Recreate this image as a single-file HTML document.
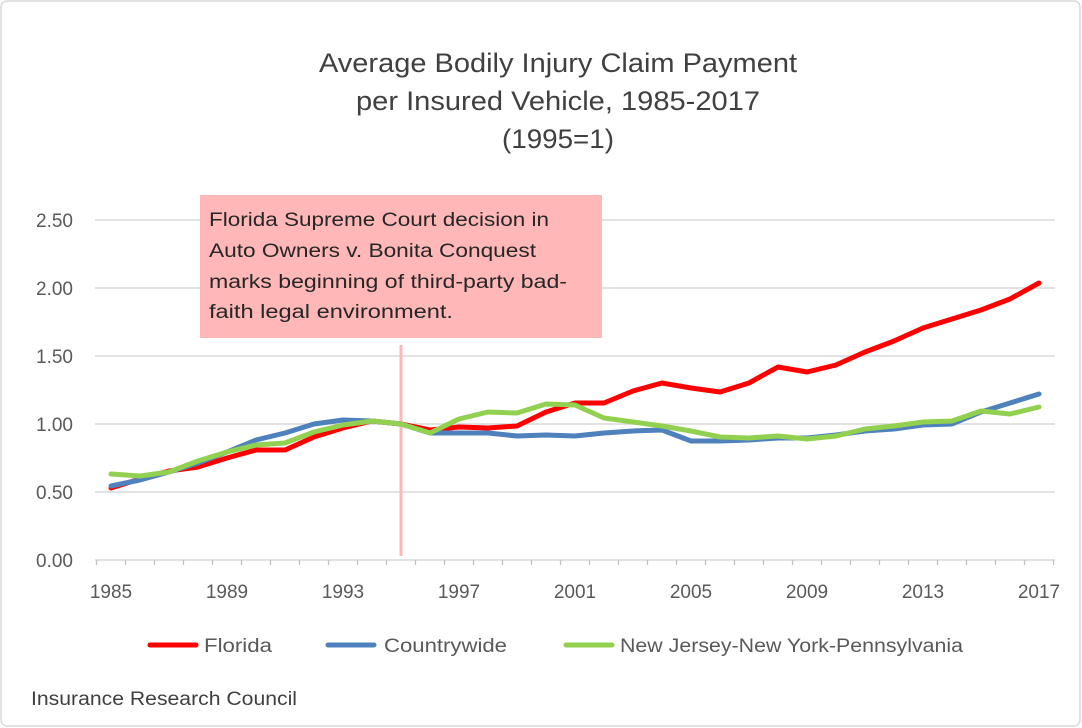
<!DOCTYPE html>
<html><head><style>
body{margin:0;background:#fff}
svg{display:block;font-family:"Liberation Sans",sans-serif}
</style></head><body>
<svg width="1082" height="728" viewBox="0 0 1082 728">
<rect x="1" y="1" width="1079" height="725" rx="6" fill="#fff" stroke="#d9d9d9" stroke-width="1.5"/>
<g font-size="27" fill="#404040" text-anchor="middle">
<text x="558" y="72" textLength="478" lengthAdjust="spacingAndGlyphs">Average Bodily Injury Claim Payment</text>
<text x="558" y="110" textLength="404" lengthAdjust="spacingAndGlyphs">per Insured Vehicle, 1985-2017</text>
<text x="558" y="148" textLength="112" lengthAdjust="spacingAndGlyphs">(1995=1)</text>
</g>
<g stroke="#d9d9d9" stroke-width="1.5">
<line x1="95" x2="1055" y1="220" y2="220"/><line x1="95" x2="1055" y1="288" y2="288"/>
<line x1="95" x2="1055" y1="356" y2="356"/><line x1="95" x2="1055" y1="424" y2="424"/>
<line x1="95" x2="1055" y1="492" y2="492"/><line x1="95" x2="1055" y1="560" y2="560"/>
</g>
<g stroke="#bfbfbf" stroke-width="1.2">
<path d="M96.5 560v5M125.5 560v5M154.5 560v5M183.5 560v5M212.5 560v5M241.5 560v5M270.5 560v5M299.5 560v5M328.5 560v5M357.5 560v5M386.5 560v5M415.5 560v5M444.5 560v5M473.5 560v5M502.5 560v5M531.5 560v5M560.5 560v5M589.5 560v5M618.5 560v5M647.5 560v5M676.5 560v5M705.5 560v5M734.5 560v5M763.5 560v5M792.5 560v5M821.5 560v5M850.5 560v5M879.5 560v5M908.5 560v5M937.5 560v5M966.5 560v5M995.5 560v5M1024.5 560v5M1053.5 560v5"/>
</g>
<g font-size="19" fill="#595959" text-anchor="end">
<text x="73" y="227">2.50</text><text x="73" y="295">2.00</text><text x="73" y="363">1.50</text>
<text x="73" y="431">1.00</text><text x="73" y="499">0.50</text><text x="73" y="567">0.00</text>
</g>
<g font-size="19" fill="#595959" text-anchor="middle">
<text x="111" y="598">1985</text><text x="227" y="598">1989</text><text x="343" y="598">1993</text>
<text x="459" y="598">1997</text><text x="575" y="598">2001</text><text x="691" y="598">2005</text>
<text x="807" y="598">2009</text><text x="923" y="598">2013</text><text x="1039" y="598">2017</text>
</g>
<rect x="200" y="195" width="402" height="143" fill="#ffb7b7"/>
<g font-size="19" fill="#262626">
<text x="209" y="226" textLength="340" lengthAdjust="spacingAndGlyphs">Florida Supreme Court decision in</text>
<text x="209" y="257" textLength="327" lengthAdjust="spacingAndGlyphs">Auto Owners v. Bonita Conquest</text>
<text x="209" y="288" textLength="358" lengthAdjust="spacingAndGlyphs">marks beginning of third-party bad-</text>
<text x="209" y="318" textLength="244" lengthAdjust="spacingAndGlyphs">faith legal environment.</text>
</g>
<line x1="401" x2="401" y1="345" y2="556" stroke="#ffb7b7" stroke-width="3"/>
<g fill="none" stroke-width="5" stroke-linejoin="round" stroke-linecap="round">
<polyline stroke="#ff0000" points="111,488 140,479 169,471 198,467 227,458 256,450 285,450 314,437 343,428 372,421 401,424 430,430 459,427 488,428 517,426 546,412 575,403 604,403 633,391 662,383 691,388 720,392 749,383 778,367 807,372 836,365 865,352 894,341 923,328 952,319 981,310 1010,299 1039,283"/>
<polyline stroke="#4f81bd" points="111,486 140,480 169,472 198,463 227,452 256,440 285,433 314,424 343,420 372,421 401,424 430,433 459,433 488,433 517,436 546,435 575,436 604,433 633,431 662,430 691,441 720,441 749,440 778,438 807,438 836,435 865,431 894,429 923,425 952,424 981,412 1010,403 1039,394"/>
<polyline stroke="#92d050" points="111,474 140,476 169,472 198,461 227,452 256,445 285,443 314,432 343,425 372,421 401,424 430,433 459,419 488,412 517,413 546,404 575,405 604,418 633,422 662,426 691,431 720,437 749,438 778,436 807,439 836,436 865,429 894,426 923,422 952,421 981,411 1010,414 1039,407"/>
</g>
<g stroke-width="5" stroke-linecap="round">
<line x1="150" x2="196" y1="645" y2="645" stroke="#ff0000"/>
<line x1="328" x2="374" y1="645" y2="645" stroke="#4f81bd"/>
<line x1="566" x2="612" y1="645" y2="645" stroke="#92d050"/>
</g>
<g font-size="19" fill="#595959">
<text x="204" y="652" textLength="68" lengthAdjust="spacingAndGlyphs">Florida</text>
<text x="384" y="652" textLength="123" lengthAdjust="spacingAndGlyphs">Countrywide</text>
<text x="620" y="652" textLength="343" lengthAdjust="spacingAndGlyphs">New Jersey-New York-Pennsylvania</text>
</g>
<text x="31" y="705" font-size="19" fill="#404040" textLength="266" lengthAdjust="spacingAndGlyphs">Insurance Research Council</text>
</svg>
</body></html>
